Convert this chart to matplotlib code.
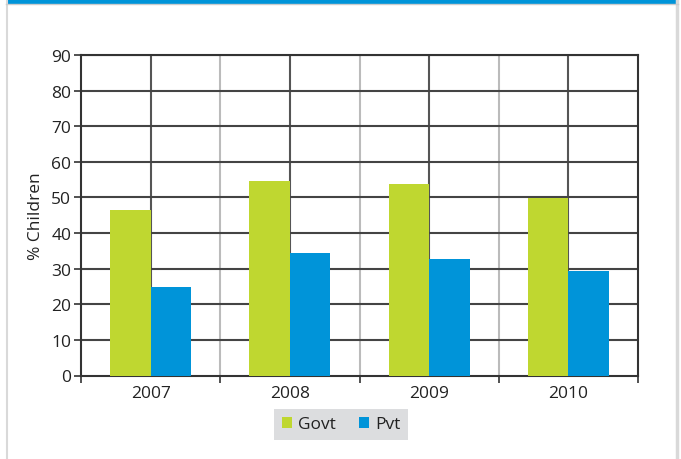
import numpy as np
import matplotlib.pyplot as plt
from matplotlib.patches import Rectangle
from matplotlib.lines import Line2D

plt.rcParams['font.family'] = ['Open Sans', 'DejaVu Sans']

years = ["2007", "2008", "2009", "2010"]
govt = [46.6, 54.5, 53.9, 49.8]
pvt = [24.8, 34.5, 32.8, 29.4]

green = "#bfd730"
blue = "#0094d9"

fig = plt.figure(figsize=(6.81, 4.60), dpi=100)

# outer frame: blue band on top, light gray sides
fig.add_artist(Line2D([7 / 681, 7 / 681], [0, 1], transform=fig.transFigure,
                      color="#d9d9d9", lw=1.5))
fig.add_artist(Line2D([677 / 681, 677 / 681], [0, 1], transform=fig.transFigure,
                      color="#d9d9d9", lw=2.5))
fig.add_artist(Rectangle((6 / 681, 1 - 4.5 / 460), 672 / 681, 4.5 / 460,
                         transform=fig.transFigure, facecolor=blue, edgecolor="none"))
fig.add_artist(Line2D([6 / 681, 678 / 681], [1 - 5 / 460, 1 - 5 / 460],
                      transform=fig.transFigure, color="#cccccc", lw=1))

ax = fig.add_axes([81 / 681, 1 - 376.5 / 460, 557 / 681, 320.5 / 460])

x = np.arange(len(years))
w = 0.29
ax.bar(x - w, govt, width=w, align="edge", color=green, label="Govt", zorder=3)
ax.bar(x, pvt, width=w, align="edge", color=blue, label="Pvt", zorder=3)

ax.set_xlim(-0.5, len(years) - 0.5)
ax.set_ylim(0, 90)
ax.set_yticks(range(0, 91, 10))
ax.tick_params(axis="y", labelsize=12.5, length=5, width=1.2, color="#333333",
               pad=2, labelcolor="#222222")

# vertical lines: dark at category centres, light at boundaries
for xi in x:
    ax.axvline(xi, color="#555555", lw=1.5, zorder=1)
for xb in np.arange(0.5, len(years) - 0.5):
    ax.axvline(xb, color="#bbbbbb", lw=1.5, zorder=1)
for yv in range(10, 91, 10):
    ax.axhline(yv, color="#444444", lw=1.5, zorder=1)

ax.set_xticks(np.arange(-0.5, len(years)))
ax.set_xticklabels([])
ax.set_xticks(x, minor=True)
ax.set_xticklabels(years, minor=True, fontsize=12.5, color="#222222")
ax.tick_params(axis="x", which="major", length=5, width=1.2, color="#333333")
ax.tick_params(axis="x", which="minor", length=0, pad=7)

for s in ["left", "bottom", "right", "top"]:
    ax.spines[s].set_color("#333333")
    ax.spines[s].set_linewidth(1.5)

ax.set_ylabel("% Children", fontsize=12.5, labelpad=5, color="#222222")

leg = ax.legend(loc="center", bbox_to_anchor=(341 / 681, 1 - 425.5 / 460),
                bbox_transform=fig.transFigure, ncol=2, frameon=True, fontsize=12.5,
                handlelength=0.6, handleheight=0.6, handletextpad=0.35,
                columnspacing=1.3, borderpad=0.45, fancybox=False)
leg.get_frame().set_facecolor("#dcdddf")
leg.get_frame().set_edgecolor("none")
leg.get_frame().set_alpha(1)
for t in leg.get_texts():
    t.set_color("#222222")

fig.savefig("out.png", dpi=100)
